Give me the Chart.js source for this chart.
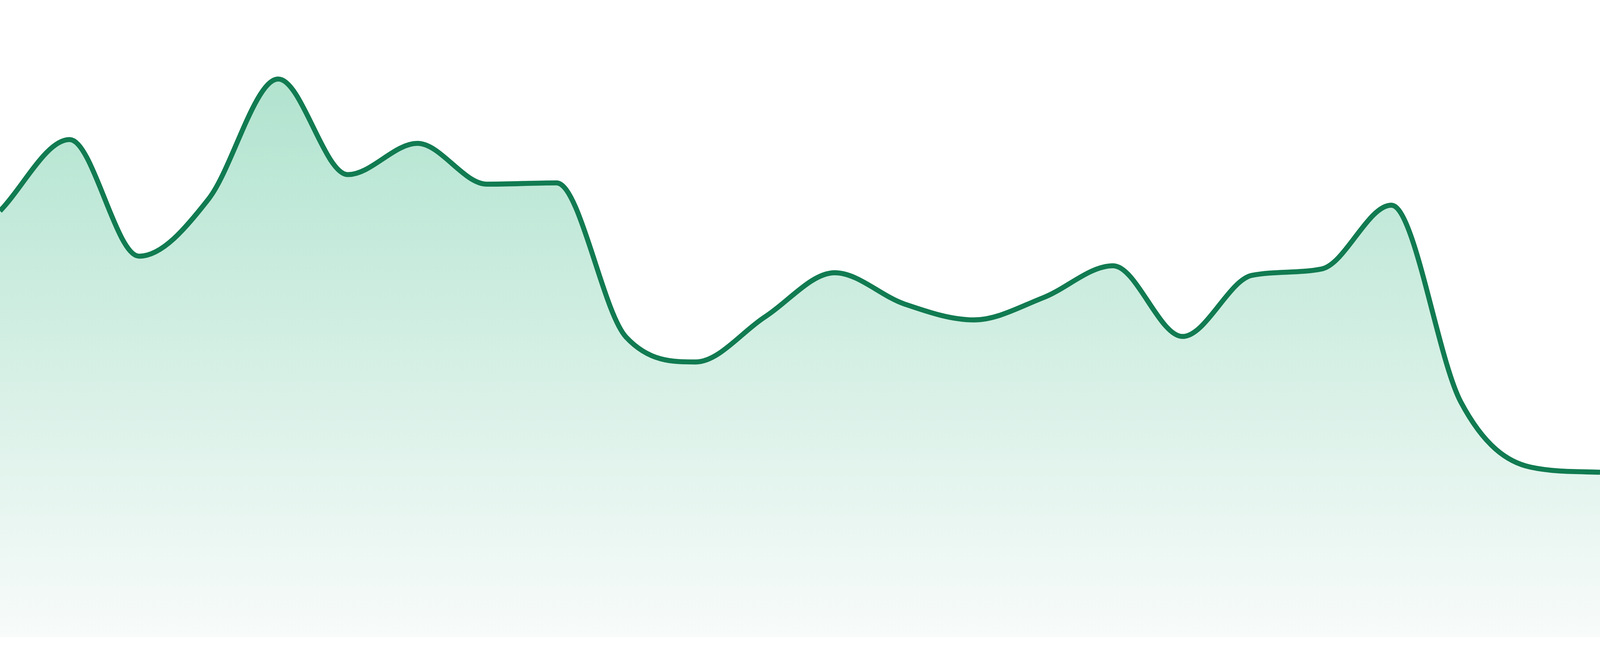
<!DOCTYPE html>
<html>
<head>
<meta charset="utf-8">
<script src="https://cdn.jsdelivr.net/npm/chart.js@4/dist/chart.umd.min.js"></script>
<style>
  html, body { margin: 0; padding: 0; background: #fff; overflow: hidden; }
  #wrap { width: 100vw; height: 100vh; position: relative; }
</style>
</head>
<body>
<div id="wrap"><canvas id="mychart"></canvas></div>
<script>
// one value per step (scale 0..100)
var labels = ["1", "2", "3", "4", "5", "6", "7", "8", "9", "10", "11", "12",
              "13", "14", "15", "16", "17", "18", "19", "20", "21", "22", "23", "24"];
var values = [66.9, 78.1, 59.8, 68.8, 87.6, 72.6, 77.5, 71.1, 71.3, 47.1, 43.2, 50.3,
              57.2, 52.3, 49.8, 53.3, 58.3, 47.2, 56.8, 57.8, 67.8, 36.9, 26.7, 25.9];
var yMin = 0;
var yMax = 100;

var lineColor = "#117b51";

// the reference was 4800 wide, keep sizes relative to the real window
var k = window.innerWidth / 4800;
var kh = window.innerHeight / 1680;

// gradient under the line, green at the top fading to almost white
function fillGradient(context) {
    var chart = context.chart;
    var area = chart.chartArea;
    if (!area) {
        return "rgba(167,224,201,1)";
    }
    var g = chart.ctx.createLinearGradient(0, area.top, 0, area.bottom);
    g.addColorStop(0, "rgb(167,224,201)");
    g.addColorStop(1, "rgb(248,251,250)");
    return g;
}

var canvas = document.getElementById("mychart");
var mychart = new Chart(canvas, {
    type: "line",
    data: {
        labels: labels,
        datasets: [{
            data: values,
            fill: "start",
            cubicInterpolationMode: "monotone",
            tension: 0.4,
            borderColor: lineColor,
            borderWidth: 15 * k,
            backgroundColor: fillGradient,
            pointRadius: 0,
            pointHoverRadius: 0
        }]
    },
    options: {
        responsive: true,
        maintainAspectRatio: false,
        animation: false,
        layout: { padding: { top: 0, left: 0, right: 0, bottom: 48 * kh } },
        plugins: {
            legend: { display: false },
            tooltip: { enabled: false }
        },
        scales: {
            x: { display: false, offset: false },
            y: { display: false, min: yMin, max: yMax }
        }
    }
});
</script>
</body>
</html>
